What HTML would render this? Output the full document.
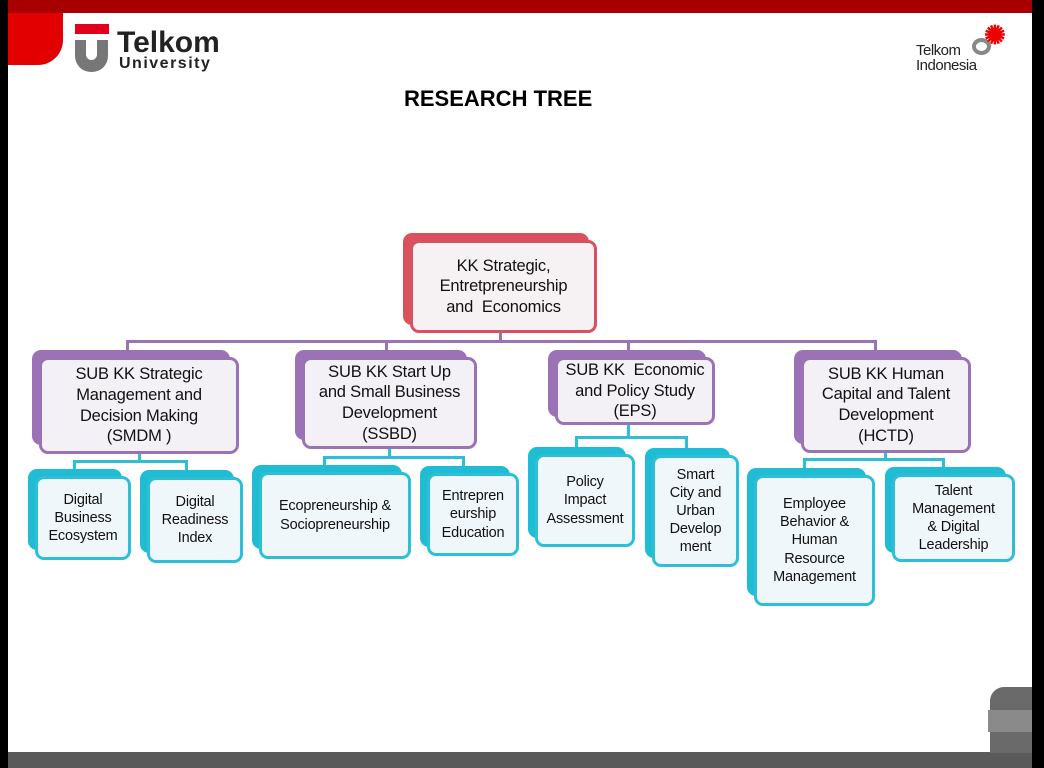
<!DOCTYPE html>
<html><head><meta charset="utf-8"><style>
*{margin:0;padding:0;box-sizing:border-box}
body{width:1044px;height:768px;position:relative;overflow:hidden;background:#fff;font-family:"Liberation Sans",sans-serif}
.a{position:absolute}
.bk{position:absolute;border-radius:9px}
.fr{position:absolute;border-radius:9px;background:#f4f3f8;border:3px solid;display:flex;align-items:center;justify-content:center;text-align:center;color:#111;line-height:1.25;letter-spacing:-0.2px}
.p .bk{background:#9b72b6}.p .fr{border-color:#9b72b6;font-size:16.5px;background:#f3f1f6}
.t .bk{background:#1fbcd3}.t .fr{border-color:#2dbfd6;font-size:14.5px;background:#f0f7fa}
.ln{position:absolute}
</style></head><body>
<div class="a" style="left:0;top:0;width:8px;height:768px;background:#000"></div>
<div class="a" style="left:1032px;top:0;width:12px;height:768px;background:#000"></div>
<div class="a" style="left:8px;top:0;width:1024px;height:13px;background:#a80000"></div>
<div class="a" style="left:8px;top:13px;width:55px;height:52px;background:#e20000;border-radius:0 0 25px 0"></div>
<div class="a" style="left:8px;top:752px;width:1024px;height:16px;background:#5a5a5a"></div>
<div class="a" style="left:990px;top:687px;width:42px;height:66px;background:#6a6a6a;border-radius:14px 0 0 0"></div>
<div class="a" style="left:988px;top:710px;width:44px;height:22px;background:#8a8a8a"></div>
<!-- Telkom University logo -->
<div class="a" style="left:75px;top:24px;width:34px;height:10px;background:#e0001b"></div>
<div class="a" style="left:75px;top:40px;width:33px;height:32px;background:#777;border-radius:0 0 16px 16px"></div>
<div class="a" style="left:86px;top:40px;width:11px;height:20px;background:#fff;border-radius:0 0 6px 6px"></div>
<div class="a" style="left:117px;top:26px;font-size:30px;font-weight:bold;color:#222">Telkom</div>
<div class="a" style="left:119px;top:55px;font-size:16px;font-weight:bold;color:#222;letter-spacing:1.5px">University</div>
<!-- Telkom Indonesia -->
<div class="a" style="left:916px;top:43px;font-size:15px;color:#222;line-height:15px;letter-spacing:-0.5px">Telkom<br>Indonesia</div>
<div class="a" style="left:972px;top:38px;width:19px;height:17px;border:4px solid #888;border-radius:50%"></div>
<div class="a" style="left:984px;top:20px;color:#e00;font-size:26px;font-weight:bold">✺</div>
<div class="a" style="left:404px;top:86px;font-size:22px;font-weight:bold;color:#000">RESEARCH TREE</div>

<div class="ln" style="left:499px;top:333px;width:3px;height:9px;background:#9b72b6"></div>
<div class="ln" style="left:126px;top:340px;width:751px;height:3px;background:#9b72b6"></div>
<div class="ln" style="left:126px;top:340px;width:3px;height:12px;background:#9b72b6"></div>
<div class="ln" style="left:385px;top:340px;width:3px;height:12px;background:#9b72b6"></div>
<div class="ln" style="left:627px;top:340px;width:3px;height:12px;background:#9b72b6"></div>
<div class="ln" style="left:874px;top:340px;width:3px;height:12px;background:#9b72b6"></div>
<div class="ln" style="left:138px;top:453px;width:3px;height:9px;background:#2dbfd6"></div>
<div class="ln" style="left:73px;top:460px;width:115px;height:3px;background:#2dbfd6"></div>
<div class="ln" style="left:73px;top:460px;width:3px;height:9px;background:#2dbfd6"></div>
<div class="ln" style="left:185px;top:460px;width:3px;height:10px;background:#2dbfd6"></div>
<div class="ln" style="left:388px;top:448px;width:3px;height:10px;background:#2dbfd6"></div>
<div class="ln" style="left:323px;top:456px;width:142px;height:3px;background:#2dbfd6"></div>
<div class="ln" style="left:323px;top:456px;width:3px;height:10px;background:#2dbfd6"></div>
<div class="ln" style="left:462px;top:456px;width:3px;height:10px;background:#2dbfd6"></div>
<div class="ln" style="left:627px;top:424px;width:3px;height:13px;background:#2dbfd6"></div>
<div class="ln" style="left:575px;top:436px;width:113px;height:3px;background:#2dbfd6"></div>
<div class="ln" style="left:575px;top:436px;width:3px;height:12px;background:#2dbfd6"></div>
<div class="ln" style="left:685px;top:436px;width:3px;height:12px;background:#2dbfd6"></div>
<div class="ln" style="left:884px;top:452px;width:3px;height:8px;background:#2dbfd6"></div>
<div class="ln" style="left:803px;top:458px;width:142px;height:3px;background:#2dbfd6"></div>
<div class="ln" style="left:803px;top:458px;width:3px;height:10px;background:#2dbfd6"></div>
<div class="ln" style="left:942px;top:458px;width:3px;height:10px;background:#2dbfd6"></div>

<div class="bk" style="left:403px;top:233px;width:186px;height:92px;background:#d9505e"></div>
<div class="fr" style="left:410px;top:240px;width:187px;height:93px;border-color:#d9505e;font-size:16.5px;background:#f6f2f4">KK Strategic,<br>Entretpreneurship<br>and &nbsp;Economics</div>

<div class="p">
<div class="bk" style="left:32px;top:350px;width:198px;height:95px"></div>
<div class="fr" style="left:39px;top:357px;width:200px;height:97px">SUB KK Strategic<br>Management and<br>Decision Making<br>(SMDM )</div>
<div class="bk" style="left:295px;top:350px;width:172px;height:90px"></div>
<div class="fr" style="left:302px;top:357px;width:175px;height:92px">SUB KK Start Up<br>and Small Business<br>Development<br>(SSBD)</div>
<div class="bk" style="left:548px;top:350px;width:158px;height:67px"></div>
<div class="fr" style="left:555px;top:357px;width:160px;height:68px">SUB KK &nbsp;Economic<br>and Policy Study<br>(EPS)</div>
<div class="bk" style="left:794px;top:350px;width:168px;height:94px"></div>
<div class="fr" style="left:801px;top:357px;width:170px;height:96px">SUB KK Human<br>Capital and Talent<br>Development<br>(HCTD)</div>
</div>

<div class="t">
<div class="bk" style="left:28px;top:469px;width:94px;height:81px"></div>
<div class="fr" style="left:35px;top:476px;width:96px;height:84px">Digital<br>Business<br>Ecosystem</div>
<div class="bk" style="left:140px;top:470px;width:94px;height:83px"></div>
<div class="fr" style="left:147px;top:477px;width:96px;height:86px">Digital<br>Readiness<br>Index</div>
<div class="bk" style="left:252px;top:465px;width:150px;height:84px"></div>
<div class="fr" style="left:259px;top:472px;width:152px;height:87px">Ecopreneurship &amp;<br>Sociopreneurship</div>
<div class="bk" style="left:420px;top:466px;width:90px;height:81px"></div>
<div class="fr" style="left:427px;top:473px;width:92px;height:83px">Entrepren<br>eurship<br>Education</div>
<div class="bk" style="left:528px;top:447px;width:98px;height:91px"></div>
<div class="fr" style="left:535px;top:454px;width:100px;height:93px">Policy<br>Impact<br>Assessment</div>
<div class="bk" style="left:645px;top:448px;width:85px;height:110px"></div>
<div class="fr" style="left:652px;top:455px;width:87px;height:112px">Smart<br>City and<br>Urban<br>Develop<br>ment</div>
<div class="bk" style="left:747px;top:468px;width:119px;height:128px"></div>
<div class="fr" style="left:754px;top:475px;width:121px;height:131px">Employee<br>Behavior &amp;<br>Human<br>Resource<br>Management</div>
<div class="bk" style="left:885px;top:467px;width:121px;height:86px"></div>
<div class="fr" style="left:892px;top:474px;width:123px;height:88px">Talent<br>Management<br>&amp; Digital<br>Leadership</div>
</div>
</body></html>
